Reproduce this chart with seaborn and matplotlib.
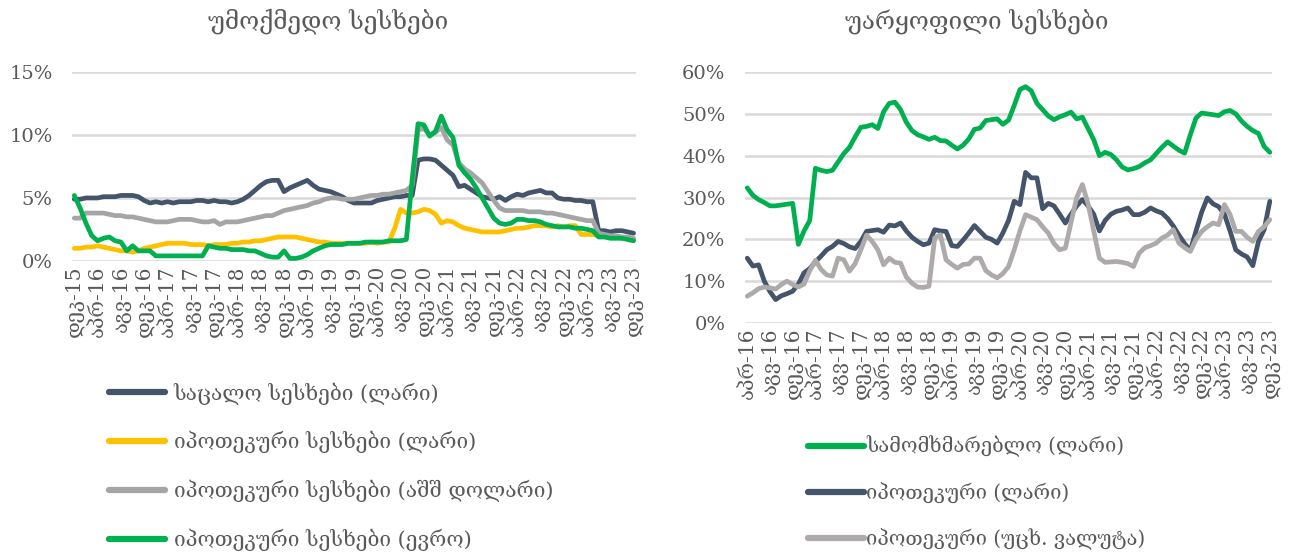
import pandas as pd
import seaborn as sns
import matplotlib.pyplot as plt
from matplotlib.ticker import FuncFormatter

# left chart: monthly, Dec-15 .. Dec-23
npl_retail_gel = [4.9, 4.9, 5.0, 5.0, 5.0, 5.1, 5.1, 5.1, 5.2, 5.2, 5.2,
                  5.1, 4.8, 4.6, 4.7, 4.6, 4.7, 4.6, 4.7, 4.7, 4.7, 4.8, 4.8, 4.7, 4.8, 4.7, 4.7, 4.6, 4.7,
                  4.9, 5.2, 5.6, 6.0, 6.3, 6.4, 6.4, 5.5, 5.8, 6.0, 6.2, 6.4, 6.0, 5.7, 5.6, 5.5,
                  5.3, 5.1, 4.8, 4.6, 4.6, 4.6, 4.6, 4.8, 4.9, 5.0, 5.1, 5.1, 5.2, 5.2,
                  8.0, 8.1, 8.1, 8.0, 7.6, 7.2, 6.8, 5.9, 6.0, 5.7, 5.4,
                  5.1, 5.0, 4.9, 5.1, 4.8, 5.1, 5.3, 5.2, 5.4, 5.5, 5.6, 5.4, 5.4, 5.0, 4.9, 4.9, 4.8, 4.8,
                  4.7, 4.7, 2.4, 2.4, 2.3, 2.4, 2.4, 2.3, 2.2]
npl_mortgage_gel = [1.0, 1.0, 1.1, 1.1, 1.2, 1.1, 1.0, 0.9, 0.8, 0.8, 0.7,
                    0.8, 1.0, 1.1, 1.2, 1.3, 1.4, 1.4, 1.4, 1.4, 1.3, 1.3, 1.3, 1.2, 1.3, 1.3, 1.3, 1.4, 1.4,
                    1.5, 1.5, 1.6, 1.6, 1.7, 1.8, 1.9, 1.9, 1.9, 1.9, 1.8, 1.7, 1.6, 1.5, 1.5, 1.4,
                    1.4, 1.4, 1.4, 1.4, 1.4, 1.4, 1.5, 1.4, 1.5, 1.5, 2.6, 4.1, 3.8, 3.8,
                    3.9, 4.1, 4.0, 3.7, 3.0, 3.2, 3.1, 2.8, 2.6, 2.5, 2.4,
                    2.3, 2.3, 2.3, 2.3, 2.4, 2.5, 2.6, 2.6, 2.7, 2.8, 2.8, 2.8, 2.7, 2.8, 2.7, 2.8, 2.8,
                    2.1, 2.1, 2.1, 2.0, 2.0, 1.9, 1.9, 1.8, 1.8, 1.7]
npl_mortgage_usd = [3.4, 3.4, 3.8, 3.8, 3.8, 3.8, 3.7, 3.6, 3.6, 3.5, 3.5,
                    3.4, 3.3, 3.2, 3.1, 3.1, 3.1, 3.2, 3.3, 3.3, 3.3, 3.2, 3.1, 3.1, 3.2, 2.9, 3.1, 3.1, 3.1,
                    3.2, 3.3, 3.4, 3.5, 3.6, 3.6, 3.8, 4.0, 4.1, 4.2, 4.3, 4.4, 4.6, 4.7, 4.9, 5.0,
                    5.0, 4.9, 4.9, 4.9, 5.0, 5.1, 5.2, 5.2, 5.3, 5.3, 5.4, 5.5, 5.6, 6.0,
                    10.4, 10.5, 10.0, 10.2, 10.6, 9.6, 9.2, 7.8, 7.3, 7.0, 6.6,
                    6.2, 5.5, 4.8, 4.2, 4.0, 4.0, 4.0, 4.0, 3.9, 3.9, 3.9, 3.8, 3.8, 3.7, 3.6, 3.5, 3.4,
                    3.3, 3.2, 3.2, 2.2, 2.1, 2.0, 2.0, 1.9, 1.9, 1.8]
npl_mortgage_eur = [5.2, 4.2, 3.0, 2.0, 1.6, 1.8, 1.9, 1.6, 1.5, 0.8, 1.2,
                    0.8, 0.8, 0.8, 0.4, 0.4, 0.4, 0.4, 0.4, 0.4, 0.4, 0.4, 0.4, 1.2, 1.1, 1.0, 1.0, 0.9, 0.9,
                    0.9, 0.8, 0.8, 0.6, 0.4, 0.3, 0.3, 0.8, 0.2, 0.2, 0.3, 0.5, 0.8, 1.0, 1.2, 1.3,
                    1.3, 1.3, 1.4, 1.4, 1.4, 1.5, 1.5, 1.5, 1.5, 1.6, 1.6, 1.6, 1.7, 6.5,
                    10.9, 10.8, 9.9, 10.3, 11.5, 10.4, 9.8, 7.6, 7.0, 6.5, 5.8,
                    5.0, 4.2, 3.4, 3.0, 2.9, 3.0, 3.3, 3.3, 3.2, 3.2, 3.1, 2.9, 2.8, 2.7, 2.7, 2.7, 2.6,
                    2.6, 2.5, 2.4, 1.9, 1.9, 1.8, 1.8, 1.8, 1.7, 1.6]
left_ticks = ["დეკ-15", "აპრ-16", "აგვ-16", "დეკ-16", "აპრ-17", "აგვ-17", "დეკ-17",
              "აპრ-18", "აგვ-18", "დეკ-18", "აპრ-19", "აგვ-19", "დეკ-19", "აპრ-20",
              "აგვ-20", "დეკ-20", "აპრ-21", "აგვ-21", "დეკ-21", "აპრ-22", "აგვ-22",
              "დეკ-22", "აპრ-23", "აგვ-23", "დეკ-23"]
left_names = ["საცალო სესხები (ლარი)", "იპოთეკური სესხები (ლარი)",
              "იპოთეკური სესხები (აშშ დოლარი)", "იპოთეკური სესხები (ევრო)"]

# right chart: monthly, Apr-16 .. Dec-23
rej_consumer_gel = [32.3, 30.5, 29.5, 28.8, 28.0, 28.0, 28.2, 28.4, 28.6, 18.8,
                    22.0, 24.5, 37.0, 36.5, 36.2, 36.5, 38.5, 40.5, 42.0, 44.5,
                    46.8, 47.0, 47.4, 46.5, 50.5, 52.5, 52.8, 51.0, 48.0, 46.0,
                    45.0, 44.5, 43.9, 44.4, 43.6, 43.5, 42.5, 41.6, 42.5, 44.0,
                    46.3, 46.6, 48.4, 48.6, 48.8, 47.5, 48.5, 52.0, 55.8, 56.5,
                    55.5, 52.5, 51.0, 49.5, 48.6, 49.3, 49.8, 50.4, 48.8, 49.2,
                    46.5, 43.8, 40.0, 40.8, 40.3, 39.0, 37.3, 36.6, 36.9, 37.4,
                    38.3, 39.0, 40.5, 42.0, 43.3, 42.3, 41.3, 40.6, 45.0, 49.0,
                    50.2, 50.0, 49.8, 49.6, 50.5, 50.8, 50.0, 48.3, 47.0, 46.0,
                    45.3, 42.2, 40.8]
rej_mortgage_gel = [15.5, 13.6, 13.9, 10.0, 7.5, 5.6, 6.5, 7.0, 7.6, 9.3,
                    12.0, 13.0, 14.6, 16.0, 17.5, 18.3, 19.5, 19.0, 18.2, 17.8,
                    19.5, 21.9, 22.1, 22.3, 21.7, 23.4, 23.2, 23.9, 22.0, 20.5,
                    19.5, 18.7, 19.1, 22.3, 22.0, 21.9, 18.5, 18.3, 19.8, 21.5,
                    23.3, 21.9, 20.5, 20.0, 19.1, 21.5, 24.5, 29.1, 28.3, 36.0,
                    34.7, 34.7, 27.3, 28.6, 28.0, 26.0, 23.9, 26.0, 28.0, 29.5,
                    28.0, 26.0, 22.0, 24.5, 26.0, 26.7, 27.0, 27.5, 25.9, 25.9,
                    26.5, 27.5, 26.8, 26.3, 25.0, 23.2, 21.0, 19.0, 17.3, 22.0,
                    26.5, 29.9, 28.5, 27.8, 26.0, 22.0, 17.5, 16.5, 15.8, 13.7,
                    19.5, 22.3, 29.1]
rej_mortgage_fx = [6.4, 7.2, 8.2, 8.6, 8.4, 8.1, 9.2, 10.0, 9.2, 8.6,
                   9.3, 12.5, 15.0, 12.8, 11.5, 11.2, 15.5, 15.1, 12.4, 14.2,
                   17.5, 21.0, 19.5, 17.5, 13.9, 15.5, 14.5, 14.3, 11.0, 9.5,
                   8.6, 8.5, 8.8, 20.3, 21.1, 15.1, 14.0, 13.1, 14.0, 14.1,
                   15.5, 15.5, 12.5, 11.5, 10.8, 11.8, 13.5, 17.5, 22.0, 25.9,
                   25.3, 24.7, 23.0, 21.5, 19.0, 17.5, 17.9, 24.0, 30.0, 33.1,
                   28.5, 22.0, 15.5, 14.5, 14.6, 14.7, 14.5, 14.2, 13.5, 16.7,
                   18.0, 18.5, 19.1, 20.3, 21.0, 22.3, 19.1, 18.0, 17.1, 20.0,
                   21.9, 23.0, 23.9, 23.5, 28.3, 25.9, 21.9, 21.9, 20.5, 19.5,
                   21.9, 23.0, 24.7]
right_ticks = ["აპრ-16", "აგვ-16", "დეკ-16", "აპრ-17", "აგვ-17", "დეკ-17",
               "აპრ-18", "აგვ-18", "დეკ-18", "აპრ-19", "აგვ-19", "დეკ-19", "აპრ-20",
               "აგვ-20", "დეკ-20", "აპრ-21", "აგვ-21", "დეკ-21", "აპრ-22", "აგვ-22",
               "დეკ-22", "აპრ-23", "აგვ-23", "დეკ-23"]
right_names = ["სამომხმარებლო (ლარი)", "იპოთეკური (ლარი)", "იპოთეკური (უცხ. ვალუტა)"]

sns.set_theme(style="white")
plt.rcParams['font.family'] = ['DejaVu Serif', 'DejaVu Sans']
TXT = "#595959"


def to_long(series, names):
    frames = []
    for vals, name in zip(series, names):
        frames.append(pd.DataFrame({"m": range(len(vals)), "value": vals, "series": name}))
    return pd.concat(frames, ignore_index=True)


def style_axis(ax, ymax, ystep, ticks, n):
    ax.set_ylim(0, ymax)
    ax.set_yticks(range(0, ymax + 1, ystep))
    ax.yaxis.set_major_formatter(FuncFormatter(lambda v, p: f"{v:.0f}%"))
    ax.set_xlim(-0.4, n - 0.6)
    ax.set_xticks(range(0, n, 4))
    ax.set_xticklabels(ticks, rotation=90)
    ax.tick_params(axis="both", length=0, colors=TXT)
    ax.tick_params(axis="x", labelsize=14.5, pad=3)
    ax.tick_params(axis="y", labelsize=14, pad=14)
    ax.grid(axis="y", color="#D9D9D9", linewidth=1.8)
    ax.set_axisbelow(True)
    for s in ax.spines.values():
        s.set_visible(False)
    ax.set_xlabel("")
    ax.set_ylabel("")


fig = plt.figure(figsize=(12.92, 5.54), dpi=100)

# left
ax1 = fig.add_axes([0.0557, 0.529, 0.4365, 0.341])
left_df = to_long([npl_retail_gel, npl_mortgage_gel, npl_mortgage_usd, npl_mortgage_eur], left_names)
left_pal = ["#44546A", "#FFC000", "#A5A5A5", "#00B050"]
sns.lineplot(data=left_df, x="m", y="value", hue="series", palette=left_pal,
             linewidth=3.4, ax=ax1)
h1, l1 = ax1.get_legend_handles_labels()
ax1.get_legend().remove()
style_axis(ax1, 15, 5, left_ticks, len(npl_retail_gel))

# right
ax2 = fig.add_axes([0.5766, 0.417, 0.408, 0.453])
right_df = to_long([rej_consumer_gel, rej_mortgage_gel, rej_mortgage_fx], right_names)
right_pal = ["#00B050", "#44546A", "#AEAAAA"]
sns.lineplot(data=right_df, x="m", y="value", hue="series", palette=right_pal,
             linewidth=3.4, ax=ax2)
h2, l2 = ax2.get_legend_handles_labels()
ax2.get_legend().remove()
style_axis(ax2, 60, 10, right_ticks, len(rej_consumer_gel))

fig.text(0.254, 0.962, "უმოქმედო სესხები", ha="center", va="center", fontsize=17.5, color=TXT)
fig.text(0.756, 0.962, "უარყოფილი სესხები", ha="center", va="center", fontsize=17.5, color=TXT)

leg1 = fig.legend(h1, l1, loc="upper left", bbox_to_anchor=(0.078, 0.325), frameon=False,
                  fontsize=15, labelcolor=TXT, handlelength=2.7, handletextpad=0.4,
                  labelspacing=1.27, borderaxespad=0)
leg2 = fig.legend(h2, l2, loc="upper left", bbox_to_anchor=(0.619, 0.228), frameon=False,
                  fontsize=14.5, labelcolor=TXT, handlelength=2.8, handletextpad=0.1,
                  labelspacing=1.22, borderaxespad=0)
for leg in (leg1, leg2):
    for ln in leg.get_lines():
        ln.set_linewidth(4.5)
        ln.set_solid_capstyle("round")

fig.savefig("out.png", dpi=100)
